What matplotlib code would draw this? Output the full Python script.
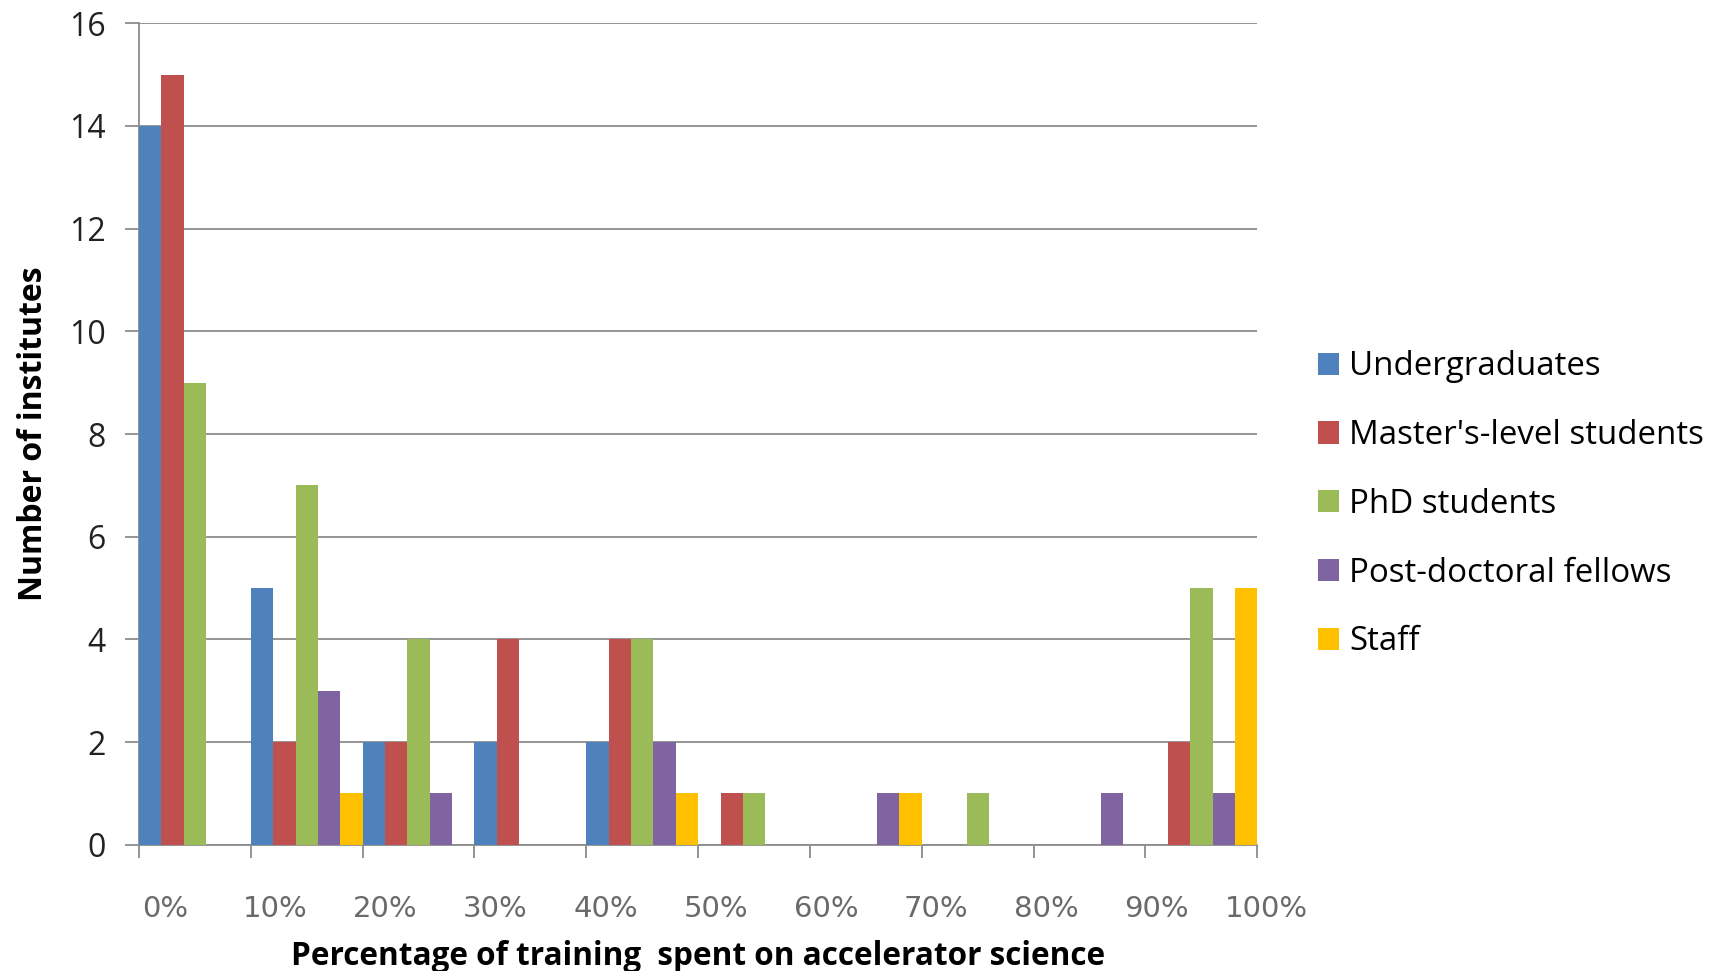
import numpy as np
import matplotlib
matplotlib.use("Agg")
import matplotlib.pyplot as plt
import matplotlib.transforms as mtransforms

categories = ['0%', '10%', '20%', '30%', '40%', '50%', '60%', '70%', '80%', '90%', '100%']
undergrads = [14, 5, 2, 2, 2, 0, 0, 0, 0, 0]
masters = [15, 2, 2, 4, 4, 1, 0, 0, 0, 2]
phd = [9, 7, 4, 0, 4, 1, 0, 1, 0, 5]
postdocs = [0, 3, 1, 0, 2, 0, 1, 0, 1, 1]
staff = [0, 1, 0, 0, 1, 0, 1, 0, 0, 5]

series = [
    ("Undergraduates", undergrads, '#4F81BD'),
    ("Master's-level students", masters, '#C0504D'),
    ("PhD students", phd, '#9BBB59'),
    ("Post-doctoral fellows", postdocs, '#8064A2'),
    ("Staff", staff, '#FFC000'),
]

plt.rcParams['font.family'] = ['Open Sans', 'DejaVu Sans']

fig = plt.figure(figsize=(17.27, 9.71), dpi=100)
ax = fig.add_axes([0.0805, 0.130, 0.6475, 0.846])

n = len(undergrads)
x = np.arange(n)
w = 0.2
for j, (name, vals, col) in enumerate(series):
    ax.bar(x + w / 2 + j * w, vals, width=w, color=col, label=name, zorder=3)

ax.set_xlim(0, n)
ax.set_ylim(0, 16)
ax.set_yticks(range(0, 17, 2))
ax.yaxis.grid(True, color='#8c8c8c', linewidth=1.3, zorder=0)

for s in ['top', 'right']:
    ax.spines[s].set_visible(False)
for s in ['left', 'bottom']:
    ax.spines[s].set_color('#8c8c8c')
    ax.spines[s].set_linewidth(1.3)

# boundary ticks without labels; the percentage labels sit a little off the ticks
ax.set_xticks(np.arange(0, n + 1))
ax.set_xticklabels([])
ax.tick_params(axis='x', direction='out', length=9.5, width=1.3, color='#8c8c8c')
trans = mtransforms.blended_transform_factory(ax.transData, ax.transAxes)
for i, lab in enumerate(categories):
    ax.text(0.233 + i * 0.985, -0.0779, lab, transform=trans, ha='center', va='center',
            fontsize=21, color='#6a6a6a', family='DejaVu Sans', clip_on=False)

ax.tick_params(axis='y', direction='out', length=10, width=1.3, color='#8c8c8c', pad=14,
               labelsize=23, labelcolor='#222222')

ax.set_xlabel('Percentage of training  spent on accelerator science', fontsize=22.7, fontweight='bold')
ax.xaxis.set_label_coords(0.5, -0.116)
ax.set_ylabel('Number of institutes', fontsize=23, fontweight='bold')
ax.yaxis.set_label_coords(-0.080, 0.5)

ax.legend(loc='center left', bbox_to_anchor=(0.763, 0.4806), bbox_transform=fig.transFigure,
          frameon=False, fontsize=23.8, handlelength=0.65, handleheight=0.65,
          handletextpad=0.3, labelspacing=1.08, borderpad=0, borderaxespad=0)

fig.savefig('out.png', dpi=100)
